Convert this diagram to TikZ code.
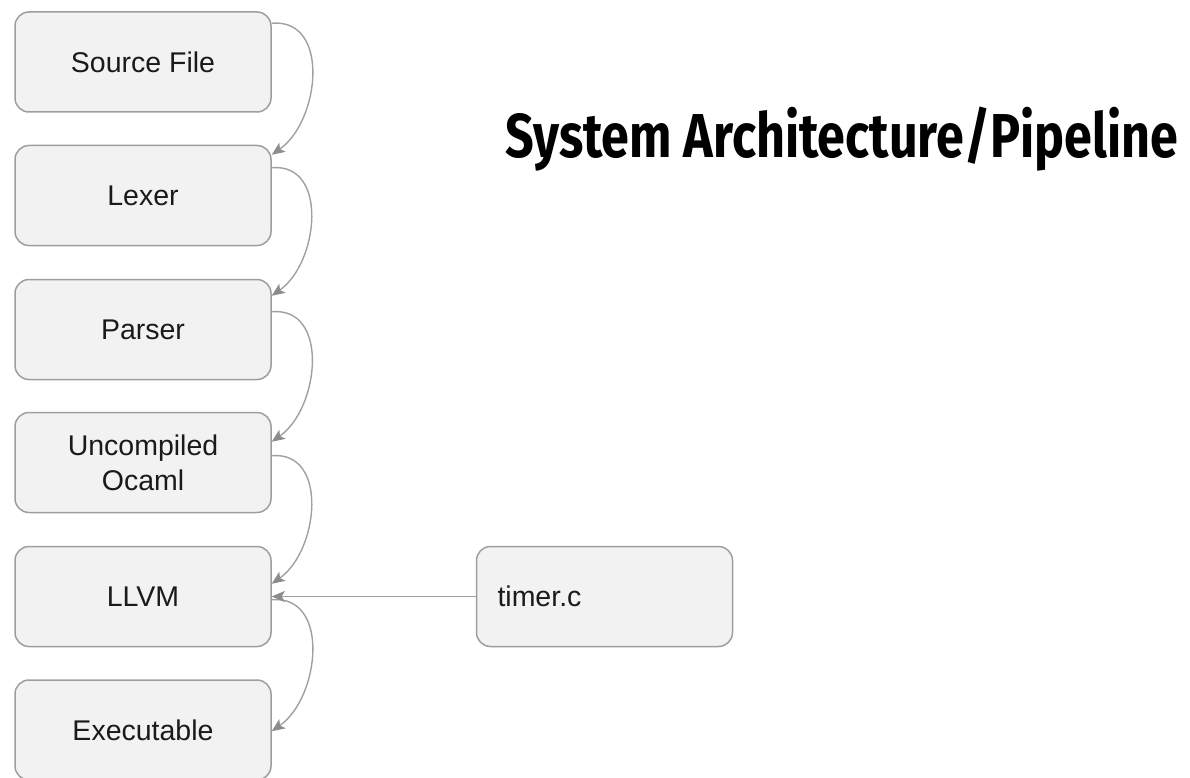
\documentclass[tikz,border=0pt]{standalone}
\usepackage{fontspec}
\setmainfont{Liberation Sans}
\newfontfamily\titlefont{Fira Sans}
\usetikzlibrary{arrows.meta}
\definecolor{boxfill}{HTML}{F2F2F2}
\definecolor{boxline}{HTML}{9E9E9E}
\definecolor{edgeline}{HTML}{A0A0A0}
\definecolor{tipcol}{HTML}{8C8C8C}
\definecolor{txt}{HTML}{1A1A1A}
\begin{document}
\begin{tikzpicture}[x=1pt,y=-1pt,
  stagebox/.style={draw=boxline, fill=boxfill, line width=1.5pt, rounded corners=14pt,
    minimum width=256pt, minimum height=100pt, inner sep=0pt, align=center,
    text=txt, font=\fontsize{28.5}{35}\selectfont},
  flow/.style={draw=edgeline, line width=1.4pt,
    -{Stealth[length=13pt,width=11pt,inset=3pt,color=tipcol,fill=tipcol]}},
  curvedflow/.style={flow, out=5, in=35, looseness=1.15}
]
\useasboundingbox (0,0) rectangle (1190,778);
\node[stagebox] (src) at (143,62) {Source File};
\node[stagebox] (lex) at (143,195.5) {Lexer};
\node[stagebox] (par) at (143,329.5) {Parser};
\node[stagebox] (unc) at (143,462.5) {Uncompiled\\Ocaml};
\node[stagebox] (llvm) at (143,596.5) {LLVM};
\node[stagebox] (exe) at (143,730) {Executable};
\node[stagebox, text width=214pt, align=left] (tim) at (604.5,596.5) {timer.c};

\node[anchor=base west, inner sep=0pt, font=\titlefont\bfseries\fontsize{62}{62}\selectfont] (title) at (505,158)
  {\resizebox{673pt}{\height}{System Architecture/Pipeline}};

\draw[curvedflow] ([yshift=-12pt]src.north east) to ([yshift=-10pt]lex.north east);
\draw[curvedflow] ([yshift=-23pt]lex.north east) to ([yshift=-17pt]par.north east);
\draw[curvedflow] ([yshift=-33pt]par.north east) to ([yshift=-30pt]unc.north east);
\draw[curvedflow] ([yshift=-44pt]unc.north east) to ([yshift=-38pt]llvm.north east);
\draw[curvedflow] ([yshift=-54pt]llvm.north east) to ([yshift=-52pt]exe.north east);
\draw[flow] (tim.west) -- (llvm.east);
\end{tikzpicture}
\end{document}
